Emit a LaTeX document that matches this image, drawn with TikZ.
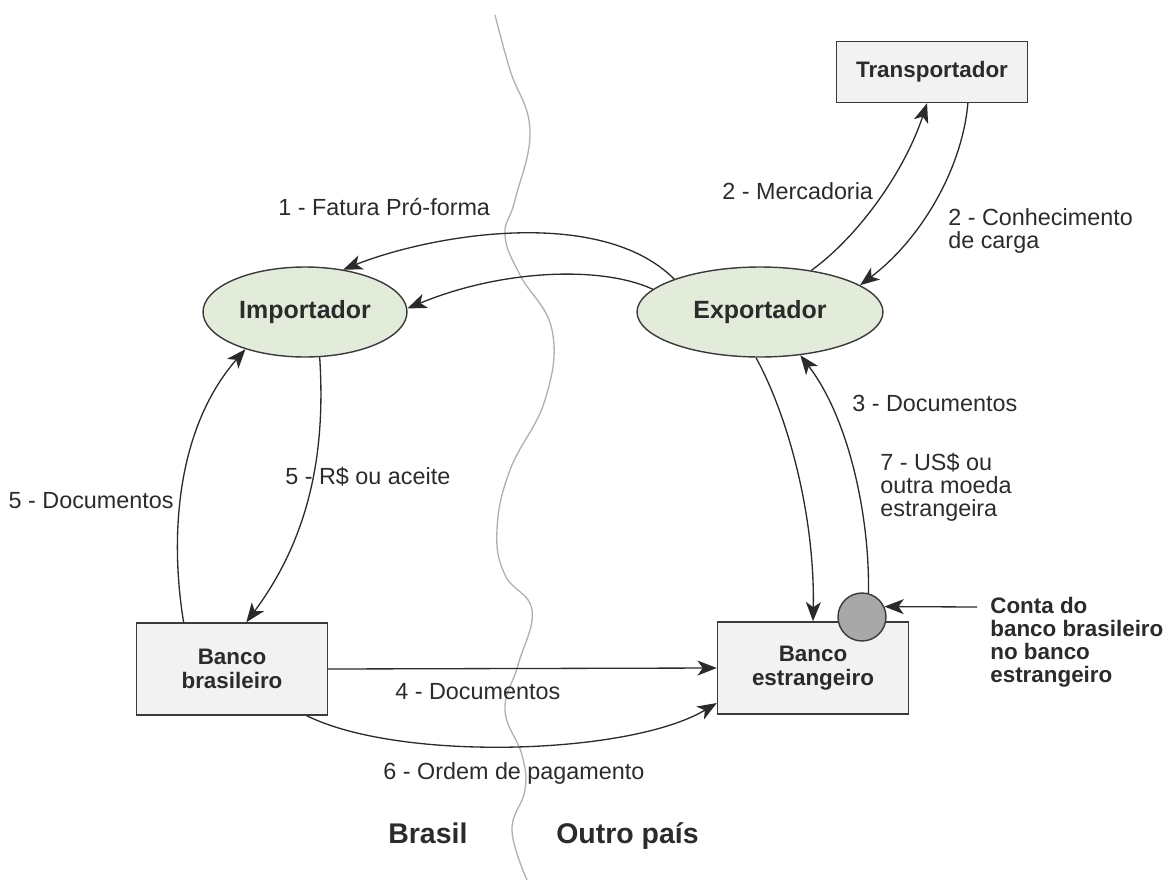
\documentclass[tikz,border=0pt]{standalone}
\usepackage{fontspec}
\setmainfont{Liberation Sans}
\usetikzlibrary{shapes.geometric,arrows.meta}
\definecolor{boxgray}{HTML}{F2F2F2}
\definecolor{edgegray}{HTML}{3A3A3A}
\definecolor{partygreen}{HTML}{E3EBDA}
\definecolor{accgray}{HTML}{A8A8A8}
\definecolor{ink}{HTML}{2B2B2B}
\definecolor{wavegray}{HTML}{B0B0B0}
\begin{document}
\begin{tikzpicture}[x=0.02cm,y=-0.02cm,
    box/.style={draw=edgegray,line width=0.8pt,fill=boxgray,minimum width=3.82cm,align=center,inner sep=0pt,font=\fontsize{12.75}{13.6}\selectfont\bfseries,text=ink},
    party/.style={ellipse,draw=edgegray,line width=0.8pt,fill=partygreen,minimum height=1.8cm,inner sep=0pt,font=\fontsize{14.2}{15}\selectfont\bfseries,text=ink},
    flow/.style={draw=ink,line width=0.75pt,-{Stealth[length=11pt,width=8.5pt,inset=3pt]}},
    lbl/.style={inner sep=0pt,align=left,font=\fontsize{13.3}{13}\selectfont,text=ink},
    country/.style={inner sep=0pt,font=\fontsize{16.2}{17}\selectfont\bfseries,text=ink}]
  \useasboundingbox (0,0) rectangle (1171,893);
  % border between the two countries
  \draw[wavegray,line width=0.75pt] plot[smooth,tension=0.7] coordinates {(495,15) (510,70) (530,130) (515,200) (505,235) (520,275) (552,330) (545,400) (510,470) (497,530) (505,575) (532,610) (518,665) (505,710) (522,755) (525,790) (512,830) (527,880)};
  % parties
  \node[party,minimum width=4.08cm] (imp) at (305,312) {Importador};
  \node[party,minimum width=4.92cm] (exp) at (760,312) {Exportador};
  \node[box,minimum height=1.22cm] (trans) at (932,72) {Transportador};
  \node[box,minimum height=1.84cm] (bb) at (232,669) {Banco\\brasileiro};
  \node[box,minimum height=1.84cm] (be) at (813,668) {Banco\\estrangeiro};
  \node[circle,draw=edgegray,line width=0.8pt,fill=accgray,minimum size=0.96cm,inner sep=0pt] (conta) at (862,617) {};
  \node[lbl,anchor=base west,font=\fontsize{12.75}{13}\selectfont\bfseries] (contalbl) at (990,682) {Conta do\\banco brasileiro\\no banco\\estrangeiro};
  \coordinate (contafrom) at (977,607);
  % flows
  \draw[flow] (exp.159) .. controls (600,205) and (430,235) .. (imp.48);
  \draw[flow] (exp.168) .. controls (600,265) and (500,270) .. (imp.2);
  \draw[flow] (exp.39) .. controls (860,235) and (905,170) .. (trans.261);
  \draw[flow] (trans.319) .. controls (962,170) and (920,240) .. (exp.15);
  \draw[flow] (exp.265) .. controls (790,420) and (815,520) .. (be.north);
  \draw[flow] (conta.75) .. controls (870,520) and (850,420) .. (exp.313);
  \draw[flow] (bb.136) .. controls (170,540) and (175,430) .. (imp.212);
  \draw[flow] (imp.288) .. controls (325,440) and (315,530) .. (bb.73);
  \draw[flow] (bb.east) -- (be.west);
  \draw[flow] (bb.328) .. controls (400,762) and (630,755) .. (be.200);
  \draw[flow] (contafrom) -- (conta.25);
  % labels
  \node[lbl,anchor=base west] (l1) at (278,215) {1 - Fatura Pró-forma};
  \node[lbl,anchor=base west] (l2a) at (722,199) {2 - Mercadoria};
  \node[lbl,anchor=base west] (l2b) at (948,248) {2 - Conhecimento\\de carga};
  \node[lbl,anchor=base west] (l3) at (852,411) {3 - Documentos};
  \node[lbl,anchor=base west] (l7) at (880,516) {7 - US\$ ou\\outra moeda\\estrangeira};
  \node[lbl,anchor=base east] (l5a) at (174,508) {5 - Documentos};
  \node[lbl,anchor=base west] (l5b) at (285,484) {5 - R\$ ou aceite};
  \node[lbl,anchor=base west] (l4) at (395,699) {4 - Documentos};
  \node[lbl,anchor=base west] (l6) at (383,779) {6 - Ordem de pagamento};
  \node[country,anchor=base west] (br) at (388,843) {Brasil};
  \node[country,anchor=base west] (op) at (556,843) {Outro país};
\end{tikzpicture}
\end{document}
